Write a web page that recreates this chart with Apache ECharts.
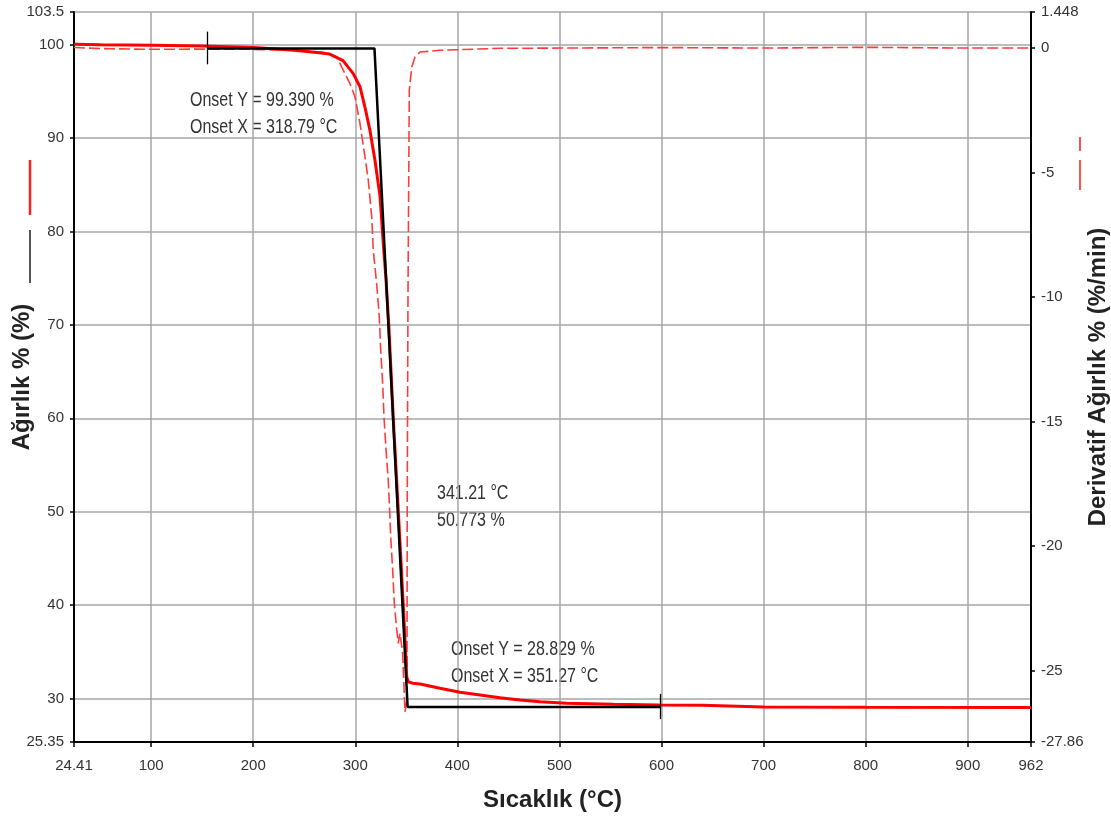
<!DOCTYPE html>
<html>
<head>
<meta charset="utf-8">
<script src="https://cdn.jsdelivr.net/npm/echarts@6/dist/echarts.min.js"></script>
<style>
html,body{margin:0;padding:0;background:#fff;}
#c{width:1111px;height:823px;}
</style>
</head>
<body>
<div id="c"></div>
<script>
// ---- data ----
const xTicks = [24.41, 100, 200, 300, 400, 500, 600, 700, 800, 900, 962];
const yLeftTicks = [25.35, 30, 40, 50, 60, 70, 80, 90, 100, 103.5];
const yRightTicks = [1.448, 0, -5, -10, -15, -20, -25, -27.86];

// weight % (left axis): [temperature °C, weight %]
const weightTemp = [24.41, 50, 100, 150, 200, 240, 260, 275, 288, 298, 304.6, 309.5, 314.4, 319.3, 324.2, 327.4, 330, 332.8, 337.2, 342.2, 347, 349.5, 350.4, 351.9, 356, 363.4, 383, 402.6, 422.2, 441.8, 461.4, 481, 507, 553, 598, 640, 700, 800, 962];
const weightVal  = [100.05, 100.0, 99.95, 99.85, 99.7, 99.4, 99.2, 99.0, 98.3, 96.9, 95.5, 93.3, 90.8, 87.6, 83.8, 78.75, 75, 70, 60, 50, 40, 34.5, 32.3, 31.8, 31.65, 31.56, 31.1, 30.67, 30.38, 30.09, 29.84, 29.66, 29.49, 29.38, 29.31, 29.28, 29.1, 29.07, 29.05];

// derivative weight %/min (right axis)
const derivTemp = [24.41, 60, 100, 150, 200, 250, 270, 281.8, 294.8, 299.7, 304.6, 309.5, 312.7, 316.1, 317.6, 320.9, 323.5, 324.9, 326.8, 328.1, 330.1, 332.3, 333.3, 334.7, 336.6, 338.2, 340.6, 342.1, 343.8, 346.4, 347.7, 348.7, 350.6, 350.9, 351.6, 352.9, 355.3, 358.5, 363.4, 383, 441.8, 500, 600, 700, 800, 900, 962];
const derivVal  = [0.02, -0.03, -0.05, -0.04, -0.05, -0.1, -0.18, -0.36, -1.43, -1.96, -3.03, -4.37, -5.3, -6.78, -8.11, -9.45, -10.79, -12.13, -13.46, -14.8, -16.13, -17.34, -18.27, -19.62, -20.95, -22.28, -23.36, -23.9, -23.5, -24.29, -25.64, -26.65, -26.17, -18.15, -10.12, -1.7, -0.76, -0.36, -0.16, -0.09, -0.01, 0.0, 0.02, 0.0, 0.03, 0.0, 0.0];

// onset tangent construction (left axis)
const onsetTemp = [154.7, 318.79, 351.27, 598.5];
const onsetVal  = [99.6, 99.6, 29.1, 29.1];
// onset limit markers
const markerTemp = [154.7, 598.5];
const markerLow  = [97.9, 27.8];
const markerHigh = [101.4, 30.5];

const annotations = [
  ['Onset Y = 99.390 %', 'Onset X = 318.79 °C'],
  ['341.21 °C', '50.773 %'],
  ['Onset Y = 28.829 %', 'Onset X = 351.27 °C']
];

const zip = (a, b) => a.map((v, i) => [v, b[i]]);

const sans = '"Liberation Sans", Arial, sans-serif';
const labelStyle = {color: '#333', fontSize: 15, fontFamily: sans};
const titleStyle = {color: '#222', fontSize: 24, fontWeight: 'bold', fontFamily: sans};
const gridLine = {show: true, lineStyle: {color: '#a6a6a6', width: 1.5}};

const chart = echarts.init(document.getElementById('c'), null, {renderer: 'canvas'});

const annTextStyle = {fill: '#333', fontSize: 20, fontFamily: sans, lineHeight: 27};

chart.setOption({
  animation: false,
  grid: {left: 74, right: 80, top: 12, bottom: 81, containLabel: false, outerBoundsMode: 'none'},
  xAxis: {
    type: 'value', min: 24.41, max: 962,
    name: 'Sıcaklık (°C)', nameLocation: 'middle', nameGap: 46, nameMoveOverlap: false, nameTextStyle: titleStyle,
    axisLine: {show: true, onZero: false, lineStyle: {color: '#000', width: 2}},
    axisTick: {show: true, length: 5, lineStyle: {color: '#000', width: 1.5}, customValues: xTicks},
    axisLabel: Object.assign({customValues: xTicks, margin: 16, formatter: v => String(v)}, labelStyle),
    splitLine: gridLine
  },
  yAxis: [{
    type: 'value', min: 25.35, max: 103.5, position: 'left',
    name: 'Ağırlık % (%)', nameLocation: 'middle', nameGap: 40, nameMoveOverlap: false, nameTextStyle: titleStyle,
    axisLine: {show: true, onZero: false, lineStyle: {color: '#000', width: 2}},
    axisTick: {show: true, length: 4, lineStyle: {color: '#000', width: 1.5}, customValues: yLeftTicks},
    axisLabel: Object.assign({customValues: yLeftTicks, margin: 10, formatter: v => String(v)}, labelStyle),
    splitLine: gridLine
  }, {
    type: 'value', min: -27.86, max: 1.448, position: 'right',
    name: 'Derivatif Ağırlık % (%/min)', nameLocation: 'middle', nameGap: 55, nameMoveOverlap: false, nameTextStyle: titleStyle,
    axisLine: {show: true, onZero: false, lineStyle: {color: '#000', width: 2}},
    axisTick: {show: true, length: 4, lineStyle: {color: '#000', width: 1.5}, customValues: yRightTicks},
    axisLabel: Object.assign({customValues: yRightTicks, margin: 10, formatter: v => String(v)}, labelStyle),
    splitLine: {show: false}
  }],
  series: [
    {
      name: 'Derivatif', type: 'line', yAxisIndex: 1, data: zip(derivTemp, derivVal),
      symbol: 'none', lineStyle: {color: '#ff3b3b', width: 1.6, type: [11, 4]}, z: 2
    },
    {
      name: 'Ağırlık', type: 'line', yAxisIndex: 0, data: zip(weightTemp, weightVal),
      symbol: 'none', lineStyle: {color: '#ff0000', width: 3}, z: 3
    },
    {
      name: 'Onset', type: 'line', yAxisIndex: 0, data: zip(onsetTemp, onsetVal),
      symbol: 'none', lineStyle: {color: '#000', width: 2.5}, z: 4,
      markLine: {
        silent: true, symbol: 'none', label: {show: false},
        lineStyle: {color: '#000', width: 1.3, type: 'solid'},
        data: markerTemp.map((t, i) => [{coord: [t, markerLow[i]]}, {coord: [t, markerHigh[i]]}])
      }
    }
  ],
  graphic: [
    {type: 'text', x: 190, y: 87, scaleX: 0.8, style: Object.assign({text: annotations[0].join('\n')}, annTextStyle)},
    {type: 'text', x: 437, y: 480, scaleX: 0.8, style: Object.assign({text: annotations[1].join('\n')}, annTextStyle)},
    {type: 'text', x: 451, y: 636, scaleX: 0.8, style: Object.assign({text: annotations[2].join('\n')}, annTextStyle)},
    {type: 'line', shape: {x1: 30, y1: 160, x2: 30, y2: 215}, style: {stroke: '#ff2020', lineWidth: 2.5}},
    {type: 'line', shape: {x1: 30, y1: 230, x2: 30, y2: 283}, style: {stroke: '#555', lineWidth: 2}},
    {type: 'line', shape: {x1: 1080, y1: 137, x2: 1080, y2: 151}, style: {stroke: '#ff5050', lineWidth: 2}},
    {type: 'line', shape: {x1: 1080, y1: 160, x2: 1080, y2: 190}, style: {stroke: '#ff5050', lineWidth: 2}}
  ]
});
</script>
</body>
</html>
